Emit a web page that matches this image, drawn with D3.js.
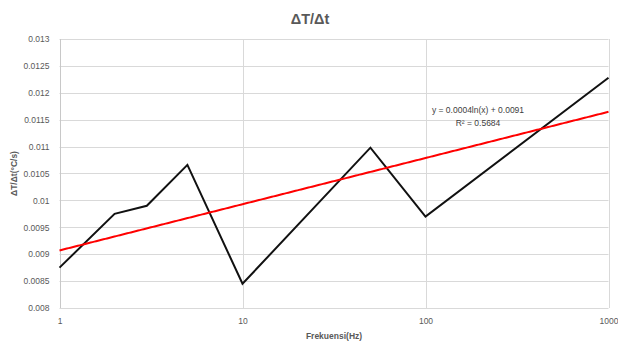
<!DOCTYPE html>
<html>
<head>
<meta charset="utf-8">
<script src="https://cdn.jsdelivr.net/npm/d3@7"></script>
<style>
  html, body { margin: 0; padding: 0; background: #fff; }
  svg { display: block; font-family: "Liberation Sans", Arial, sans-serif; }
</style>
</head>
<body>
<svg id="chart" width="618" height="343"></svg>
<script>
// Measured rate of temperature change at each frequency
const frequencies = [1, 2, 3, 5, 10, 50, 100, 1000];
const rates = [0.00875, 0.00975, 0.0099, 0.01066, 0.00845, 0.01098, 0.0097, 0.01228];

// Logarithmic trendline y = a·ln(x) + b
const trendSlope = 0.000373;
const trendIntercept = 0.00907;
const trendR2 = 0.5684;

const yTicks = [0.008, 0.0085, 0.009, 0.0095, 0.01, 0.0105, 0.011, 0.0115, 0.012, 0.0125, 0.013];
const xTicks = [1, 10, 100, 1000];

const chartTitle = "ΔT/Δt";
const xTitle = "Frekuensi(Hz)";
const yTitle = "ΔT/Δt(°C/s)";

const margin = { left: 59.5, right: 9.5, top: 39, bottom: 35 };
const W = 618, H = 343;

const svg = d3.select("#chart");

const x = d3.scaleLog().domain([1, 1000]).range([margin.left, W - margin.right]);
const y = d3.scaleLinear().domain([0.008, 0.013]).range([H - margin.bottom, margin.top]);

// Gridlines
svg.append("g").selectAll("line.h").data(yTicks).join("line")
  .attr("x1", margin.left).attr("x2", W - margin.right)
  .attr("y1", d => Math.round(y(d)) + 0.5).attr("y2", d => Math.round(y(d)) + 0.5)
  .attr("stroke", "#d9d9d9").attr("stroke-width", 1);

svg.append("g").selectAll("line.v").data(xTicks).join("line")
  .attr("x1", d => Math.round(x(d)) + 0.5).attr("x2", d => Math.round(x(d)) + 0.5)
  .attr("y1", margin.top).attr("y2", H - margin.bottom)
  .attr("stroke", d => d === 1 ? "#c8c8c8" : "#d9d9d9").attr("stroke-width", 1);

// Y axis labels
const yAxis = d3.axisLeft(y).tickValues(yTicks).tickSize(0).tickPadding(10)
  .tickFormat(d => String(+d.toFixed(4)));
svg.append("g").attr("transform", `translate(${margin.left},0)`).call(yAxis)
  .call(g => g.select(".domain").remove())
  .call(g => g.selectAll("text").attr("fill", "#595959").attr("font-size", 8.5)
    .attr("font-family", "'Liberation Sans', Arial, sans-serif"));

// X axis labels
const xAxis = d3.axisBottom(x).tickValues(xTicks).tickSize(0).tickPadding(10)
  .tickFormat(d3.format("d"));
svg.append("g").attr("transform", `translate(0,${H - margin.bottom})`).call(xAxis)
  .call(g => g.select(".domain").remove())
  .call(g => g.selectAll("text").attr("fill", "#595959").attr("font-size", 8.5)
    .attr("font-family", "'Liberation Sans', Arial, sans-serif"));

// Data line
const line = d3.line().x((d, i) => x(frequencies[i])).y(d => y(d));
svg.append("path").datum(rates)
  .attr("d", line)
  .attr("fill", "none").attr("stroke", "#111").attr("stroke-width", 2)
  .attr("stroke-linejoin", "miter");

// Trendline sampled across the log axis
const trendX = d3.range(0, 301).map(i => Math.pow(10, i / 100));
const trendLine = d3.line().x(d => x(d)).y(d => y(trendSlope * Math.log(d) + trendIntercept));
svg.append("path").datum(trendX)
  .attr("d", trendLine)
  .attr("fill", "none").attr("stroke", "#ff0000").attr("stroke-width", 2);

// Trendline equation
const eq = svg.append("g").attr("fill", "#404040").attr("font-size", 8.5).attr("text-anchor", "middle");
eq.append("text").attr("x", 478).attr("y", 113)
  .text(`y = ${trendSlope.toFixed(4)}ln(x) + ${trendIntercept.toFixed(4)}`);
eq.append("text").attr("x", 478).attr("y", 125.5)
  .text(`R² = ${trendR2.toFixed(4)}`);

// Titles
svg.append("text").attr("x", 310).attr("y", 24).attr("text-anchor", "middle")
  .attr("font-size", 14.5).attr("font-weight", "bold").attr("fill", "#595959")
  .text(chartTitle);

svg.append("text").attr("x", (margin.left + W - margin.right) / 2).attr("y", 339)
  .attr("text-anchor", "middle").attr("font-size", 8.5).attr("font-weight", "bold")
  .attr("fill", "#595959").text(xTitle);

svg.append("text")
  .attr("transform", `translate(17,${(margin.top + H - margin.bottom) / 2}) rotate(-90)`)
  .attr("text-anchor", "middle").attr("font-size", 8.5).attr("font-weight", "bold")
  .attr("fill", "#595959").text(yTitle);
</script>
</body>
</html>
